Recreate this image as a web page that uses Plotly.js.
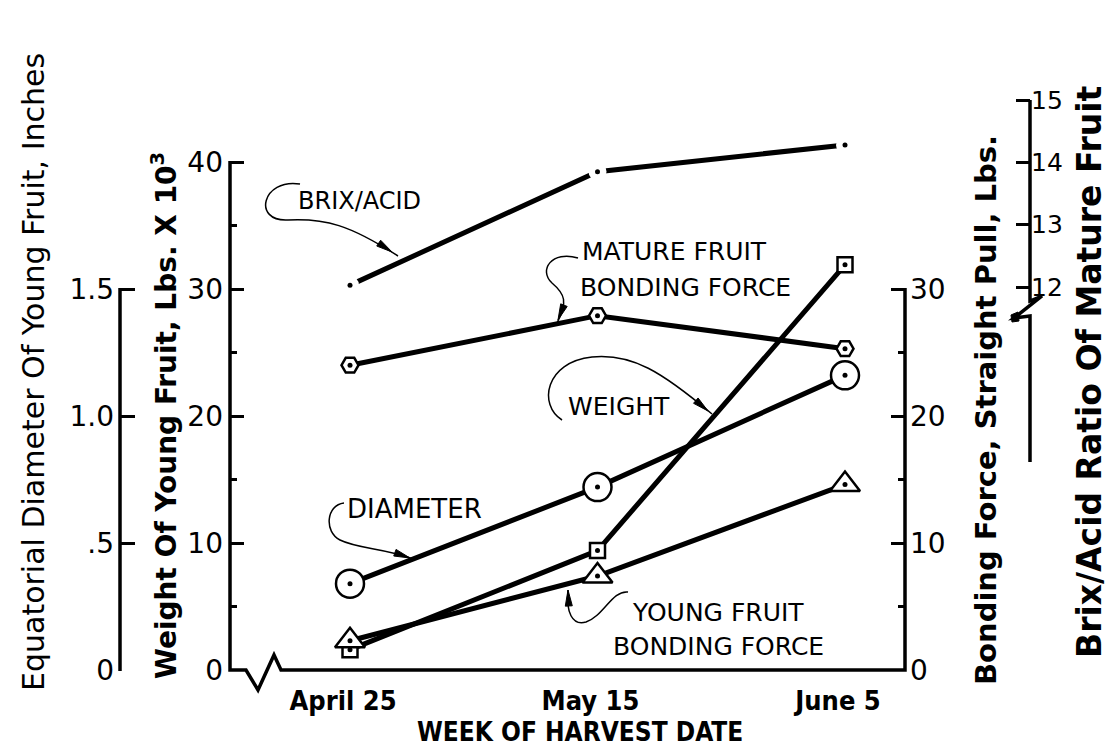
<!DOCTYPE html>
<html>
<head>
<meta charset="utf-8">
<script src="https://cdn.plot.ly/plotly-3.0.1.min.js"></script>
<style>html,body{margin:0;padding:0;background:#fff;}#chart{width:1109px;height:748px;}</style>
</head>
<body>
<div id="chart"></div>
<script>
// ---------------- data ----------------
const dates = ['April 25', 'May 15', 'June 5'];
const dateIndex = [0, 1, 2];
const brixAcid = [12.03, 13.85, 14.28];          // Brix/Acid ratio of mature fruit
const matureBonding = [24.0, 27.9, 25.3];        // Lbs, straight pull
const weightYoung = [1.6, 9.4, 31.9];            // Lbs x 10^3
const diameterYoung = [0.34, 0.72, 1.16];        // inches
const youngBonding = [2.3, 7.4, 14.6];           // Lbs, straight pull

const weightTicks = [0, 10, 20, 30, 40];
const weightMinor = [5, 15, 25, 35];
const bondTicks = [0, 10, 20, 30];
const bondMinor = [5, 15, 25];
const diamTicks = [0, 0.5, 1.0, 1.5];
const diamTickText = ['0', '.5', '1.0', '1.5'];
const brixTicks = [12, 13, 14, 15];

// ---------------- geometry ----------------
const W = 1109, H = 748;
const ML = 20, MR = 20, MT = 90, MB = 78;
const PW = W - ML - MR, PH = H - MT - MB;
const px = x => (x - ML) / PW;
const py = y => (H - MB - y) / PH;

const X_LEFT = 230, X_RIGHT = 905, X_FIRST = 350, X_STEP = 247.5;
const ZERO_Y = 670, PX_PER = 12.7;
const wTop = (ZERO_Y - MT) / PX_PER;
const DIAM_FACTOR = 20;
const B12_Y = 287, B_PX = 62.33;
const bLow = 12 - (ZERO_Y - B12_Y) / B_PX;
const bHigh = 12 + (B12_Y - MT) / B_PX;

const FONT = 'DejaVu Sans Condensed, DejaVu Sans, sans-serif';
const WIDE = 'DejaVu Sans, sans-serif';
const BLACK = '#000';

function pathFrom(cmds) {
  return cmds.map(c => c[0] + ' ' + c.slice(1).reduce((a, v, i) => {
    a.push(i % 2 === 0 ? px(v).toFixed(5) : py(v).toFixed(5)); return a;
  }, []).join(' ')).join(' ');
}
function arrowHead(tx, ty, fx, fy, len, hw) {
  const dx = tx - fx, dy = ty - fy, d = Math.hypot(dx, dy);
  const ux = dx / d, uy = dy / d;
  const bx = tx - ux * len, by = ty - uy * len;
  return pathFrom([['M', tx, ty], ['L', bx - uy * hw, by + ux * hw], ['L', bx + uy * hw, by - ux * hw], ['Z']]);
}
const lineShape = (d, w) => ({type: 'path', xref: 'paper', yref: 'paper', path: d, line: {color: BLACK, width: w}});
const fillShape = d => ({type: 'path', xref: 'paper', yref: 'paper', path: d, fillcolor: BLACK, line: {color: BLACK, width: 1}});

const shapes = [
  // axis lines (x axis with break, weight axis, bonding axis)
  lineShape(pathFrom([['M', X_LEFT, ZERO_Y - 40 * PX_PER - 1], ['L', X_LEFT, ZERO_Y], ['L', 246, ZERO_Y], ['L', 258, 690], ['L', 274, 655], ['L', 281, ZERO_Y], ['L', X_RIGHT, ZERO_Y], ['L', X_RIGHT, ZERO_Y - 30 * PX_PER - 1]]), 3.5),
  // diameter axis
  lineShape(pathFrom([['M', 120, ZERO_Y + 1], ['L', 120, ZERO_Y - 30 * PX_PER - 1]]), 3.5),
  // brix axis with break
  lineShape(pathFrom([['M', 1030, 100], ['L', 1030, 301], ['L', 1042, 296], ['L', 1014, 318], ['L', 1030, 316], ['L', 1030, 462]]), 3.5),
  fillShape(pathFrom([['M', 1011, 315], ['L', 1018, 312], ['L', 1019, 321], ['L', 1012, 322], ['Z']])),
  // leader lines
  lineShape(pathFrom([['M', 300, 184], ['C', 262, 178, 252, 222, 288, 220], ['C', 325, 218, 350, 225, 398, 256]]), 1.5),
  fillShape(arrowHead(392, 252, 368, 236, 16, 3.5)),
  lineShape(pathFrom([['M', 578, 258], ['C', 552, 250, 538, 270, 552, 283], ['C', 565, 294, 568, 302, 557, 323]]), 1.5),
  fillShape(arrowHead(558, 320, 566, 300, 16, 3.5)),
  lineShape(pathFrom([['M', 562, 420], ['C', 538, 405, 545, 362, 592, 357], ['C', 632, 353, 662, 372, 712, 414]]), 1.5),
  fillShape(arrowHead(708, 411, 688, 394, 16, 3.5)),
  lineShape(pathFrom([['M', 344, 503], ['C', 326, 505, 324, 532, 340, 540], ['C', 358, 549, 385, 548, 413, 559]]), 1.5),
  fillShape(arrowHead(410, 558, 390, 551, 16, 3.5)),
  lineShape(pathFrom([['M', 628, 592], ['C', 612, 590, 604, 616, 586, 622], ['C', 572, 626, 566, 612, 568, 590]]), 1.5),
  fillShape(arrowHead(568, 590, 569, 610, 16, 3.5)),
];

const ann = (text, x, y, size, opts) => Object.assign({
  text: text, x: px(x), y: py(y), xref: 'paper', yref: 'paper', showarrow: false,
  xanchor: 'left', yanchor: 'middle', font: {family: WIDE, size: size, color: BLACK}
}, opts || {});

const annotations = [
  ann('BRIX/ACID', 296, 201, 24),
  ann('MATURE FRUIT', 580, 251, 25),
  ann('BONDING FORCE', 578, 287, 25),
  ann('WEIGHT', 566, 406, 25),
  ann('DIAMETER', 345, 509, 26),
  ann('YOUNG FRUIT', 630, 612, 25),
  ann('BONDING FORCE', 611, 646, 25),
  ann('Equatorial Diameter Of Young Fruit, Inches', 33, 372, 30, {xanchor: 'center', textangle: -90}),
  ann('Weight Of Young Fruit, Lbs. X 10<sup>3</sup>', 164, 416, 28, {xanchor: 'center', textangle: -90, font: {family: WIDE, size: 28, color: BLACK, weight: 'bold'}}),
  ann('Bonding Force, Straight Pull, Lbs.', 986, 410, 29, {xanchor: 'center', textangle: -90, font: {family: WIDE, size: 29, color: BLACK, weight: 'bold'}}),
  ann('Brix/Acid Ratio Of Mature Fruit', 1089, 372, 33, {xanchor: 'center', textangle: -90, font: {family: WIDE, size: 33, color: BLACK, weight: 'bold'}}),
  ann('WEEK OF HARVEST DATE', 580, 732, 26, {xanchor: 'center', font: {family: FONT, size: 26, color: BLACK, weight: 'bold'}}),
];

// ---------------- traces ----------------
const openMarker = (symbol, size) => ({symbol: symbol, size: size, color: '#fff', line: {color: BLACK, width: 2.5}});
const dotTrace = (ys, axis) => ({x: dateIndex, y: ys, yaxis: axis, mode: 'markers', marker: {size: 5, color: BLACK}, hoverinfo: 'skip'});
const traces = [
  {x: dateIndex, y: brixAcid, yaxis: 'y4', mode: 'lines', line: {color: BLACK, width: 5}, hoverinfo: 'skip'},
  {x: dateIndex, y: brixAcid, yaxis: 'y4', mode: 'markers', marker: {size: 18, color: '#fff'}, hoverinfo: 'skip'},
  dotTrace(brixAcid, 'y4'),
  {x: dateIndex, y: matureBonding, yaxis: 'y2', mode: 'lines+markers', line: {color: BLACK, width: 5}, marker: openMarker('hexagon2', 17), name: 'Mature fruit bonding force'},
  dotTrace(matureBonding, 'y2'),
  {x: dateIndex, y: diameterYoung, yaxis: 'y3', mode: 'lines+markers', line: {color: BLACK, width: 5}, marker: openMarker('circle', 28), name: 'Diameter'},
  dotTrace(diameterYoung, 'y3'),
  {x: dateIndex, y: weightYoung, yaxis: 'y', mode: 'lines+markers', line: {color: BLACK, width: 5}, marker: openMarker('square', 15), name: 'Weight'},
  dotTrace(weightYoung, 'y'),
  {x: dateIndex, y: youngBonding, yaxis: 'y2', mode: 'lines+markers', line: {color: BLACK, width: 5}, marker: openMarker('triangle-up', 26), name: 'Young fruit bonding force'},
  dotTrace(youngBonding, 'y2'),
];

const tickFont = {family: WIDE, size: 28, color: BLACK};
const layout = {
  width: W, height: H,
  margin: {l: ML, r: MR, t: MT, b: MB},
  paper_bgcolor: '#fff', plot_bgcolor: 'rgba(0,0,0,0)',
  showlegend: false,
  xaxis: {
    domain: [px(X_LEFT), px(X_RIGHT)],
    range: [(X_LEFT - X_FIRST) / X_STEP, (X_RIGHT - X_FIRST) / X_STEP],
    tickmode: 'array', tickvals: dateIndex, ticktext: dates,
    ticks: '', showline: false, showgrid: false, zeroline: false,
    ticklabelstandoff: 12, ticklabelshift: -7,
    tickfont: {family: FONT, size: 27, color: BLACK, weight: 'bold'}
  },
  yaxis: {
    range: [0, wTop], tickmode: 'array', tickvals: weightTicks,
    ticks: 'inside', ticklen: 14, tickwidth: 3, tickcolor: BLACK,
    minor: {tickmode: 'array', tickvals: weightMinor, ticks: 'inside', ticklen: 7, tickwidth: 3, tickcolor: BLACK, showgrid: false},
    showline: false, showgrid: false, zeroline: false, tickfont: tickFont, ticklabelstandoff: 6
  },
  yaxis2: {
    overlaying: 'y', side: 'right', anchor: 'x',
    range: [0, wTop], tickmode: 'array', tickvals: bondTicks,
    ticks: 'inside', ticklen: 14, tickwidth: 3, tickcolor: BLACK,
    minor: {tickmode: 'array', tickvals: bondMinor, ticks: 'inside', ticklen: 7, tickwidth: 3, tickcolor: BLACK, showgrid: false},
    showline: false, showgrid: false, zeroline: false, tickfont: tickFont, ticklabelstandoff: 4
  },
  yaxis3: {
    overlaying: 'y', side: 'left', anchor: 'free', position: px(120),
    range: [0, wTop / DIAM_FACTOR], tickmode: 'array', tickvals: diamTicks, ticktext: diamTickText,
    ticks: 'inside', ticklen: 14, tickwidth: 3, tickcolor: BLACK,
    showline: false, showgrid: false, zeroline: false, tickfont: tickFont, ticklabelstandoff: 6
  },
  yaxis4: {
    overlaying: 'y', side: 'right', anchor: 'free', position: px(1030),
    range: [bLow, bHigh], tickmode: 'array', tickvals: brixTicks,
    ticks: 'inside', ticklen: 14, tickwidth: 3, tickcolor: BLACK,
    showline: false, showgrid: false, zeroline: false,
    tickfont: {family: WIDE, size: 25, color: BLACK}
  },
  shapes: shapes,
  annotations: annotations
};

Plotly.newPlot('chart', traces, layout, {displayModeBar: false, staticPlot: true});
</script>
</body>
</html>
